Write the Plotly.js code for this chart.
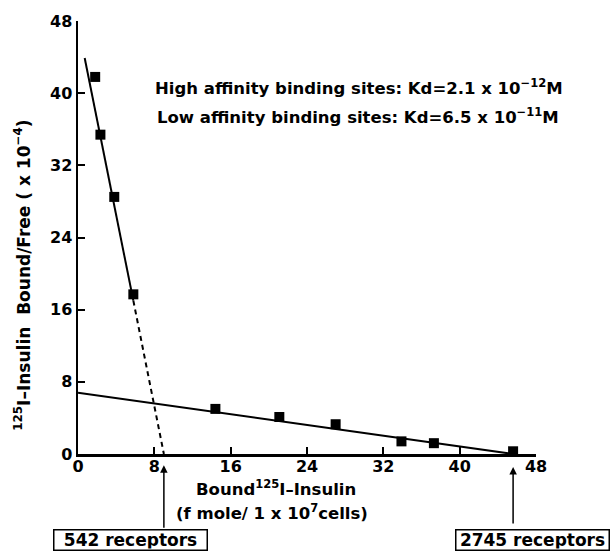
<!DOCTYPE html>
<html>
<head>
<meta charset="utf-8">
<script src="https://cdn.plot.ly/plotly-3.0.1.min.js"></script>
<style>html,body{margin:0;padding:0;background:#fff;}#chart{width:610px;height:552px;}</style>
</head>
<body>
<div id="chart"></div>
<script>
// Scatchard plot data
const highX = [1.8, 2.35, 3.8, 5.8];
const highY = [41.8, 35.4, 28.5, 17.7];
const lowX = [14.4, 21.1, 27.0, 33.9, 37.3, 45.6];
const lowY = [5.0, 4.1, 3.3, 1.4, 1.2, 0.3];
const highFitX = [0.7, 5.8];
const highFitY = [43.9, 17.0];
const highExtX = [5.8, 9.0];
const highExtY = [17.0, 0];
const lowFitX = [0, 45.6];
const lowFitY = [6.8, 0];
const tickVals = [0, 8, 16, 24, 32, 40, 48];
const tickText = ['0', '8', '16', '24', '32', '40', '48'];
const receptorX = [9.0, 45.6];
const receptorLabels = ['542 receptors', '2745 receptors'];
const kdLines = [
  'High affinity binding sites: Kd=2.1 x 10<sup>−12</sup>M',
  'Low affinity binding sites: Kd=6.5 x 10<sup>−11</sup>M'
];

const FONT = 'DejaVu Sans';
const txt = (size) => ({family: FONT, size: size, color: '#000', weight: 'bold'});

const traces = [
  {x: highFitX, y: highFitY, mode: 'lines', line: {color: '#000', width: 2}, hoverinfo: 'skip'},
  {x: highExtX, y: highExtY, mode: 'lines', line: {color: '#000', width: 2, dash: '5px,4px'}, hoverinfo: 'skip'},
  {x: lowFitX, y: lowFitY, mode: 'lines', line: {color: '#000', width: 2}, hoverinfo: 'skip'},
  {x: highX, y: highY, mode: 'markers', marker: {symbol: 'square', size: 10, color: '#000'}},
  {x: lowX, y: lowY, mode: 'markers', marker: {symbol: 'square', size: 10, color: '#000'}}
];

const annotations = [
  {xref: 'paper', yref: 'paper', x: 0.164, y: 0.848, xanchor: 'left', yanchor: 'middle',
   text: kdLines[0], showarrow: false, font: txt(16.5)},
  {xref: 'paper', yref: 'paper', x: 0.168, y: 0.780, xanchor: 'left', yanchor: 'middle',
   text: kdLines[1], showarrow: false, font: txt(16.5)},
  {xref: 'paper', yref: 'paper', x: -0.121, y: 0.413, xanchor: 'center', yanchor: 'middle',
   textangle: -90, text: '<sup>125</sup>I–Insulin  Bound/Free ( x 10<sup>−4</sup>)',
   showarrow: false, font: txt(17)},
  {xref: 'paper', yref: 'paper', x: 0.4325, y: -0.078, xanchor: 'center', yanchor: 'middle',
   text: 'Bound<sup>125</sup>I–Insulin', showarrow: false, font: txt(16.5)},
  {xref: 'paper', yref: 'paper', x: 0.4237, y: -0.133, xanchor: 'center', yanchor: 'middle',
   text: '(f mole/ 1 x 10<sup>7</sup>cells)', showarrow: false, font: txt(16.5)},
  {xref: 'paper', yref: 'paper', x: 0.1144, y: -0.1986, xanchor: 'center', yanchor: 'middle',
   text: receptorLabels[0], showarrow: false, font: txt(17), bordercolor: '#000', borderwidth: 1.5,
   borderpad: 1, width: 150, height: 17, bgcolor: '#fff'},
  {xref: 'paper', yref: 'paper', x: 0.992, y: -0.1986, xanchor: 'center', yanchor: 'middle',
   text: receptorLabels[1], showarrow: false, font: txt(17), bordercolor: '#000', borderwidth: 1.5,
   borderpad: 1, width: 150, height: 17, bgcolor: '#fff'},
  {xref: 'x', yref: 'paper', x: receptorX[0], y: -0.026, text: '', showarrow: true,
   ax: 0, ay: 64, arrowhead: 2, arrowsize: 1, arrowwidth: 1.5, arrowcolor: '#000'},
  {xref: 'x', yref: 'paper', x: receptorX[1], y: -0.03, text: '', showarrow: true,
   ax: 0, ay: 58, arrowhead: 2, arrowsize: 1, arrowwidth: 1.5, arrowcolor: '#000'}
];

const layout = {
  width: 610, height: 552,
  margin: {l: 77.5, r: 73.5, t: 21, b: 98, pad: 0},
  paper_bgcolor: '#fff', plot_bgcolor: '#fff',
  showlegend: false,
  font: {family: FONT, color: '#000'},
  xaxis: {
    range: [0, 48], tickvals: tickVals, ticktext: tickText, showgrid: false, zeroline: false,
    showline: true, linecolor: '#000', linewidth: 2.5, ticks: 'inside', ticklen: 7, tickwidth: 2,
    tickcolor: '#000', tickfont: txt(16), ticklabelstandoff: -4, fixedrange: true
  },
  yaxis: {
    range: [0, 48], tickvals: tickVals, ticktext: tickText, showgrid: false, zeroline: false,
    showline: true, linecolor: '#000', linewidth: 2.5, ticks: 'inside', ticklen: 7, tickwidth: 2,
    tickcolor: '#000', tickfont: txt(16), fixedrange: true
  },
  annotations: annotations
};

Plotly.newPlot('chart', traces, layout, {displayModeBar: false, staticPlot: true});
</script>
</body>
</html>
